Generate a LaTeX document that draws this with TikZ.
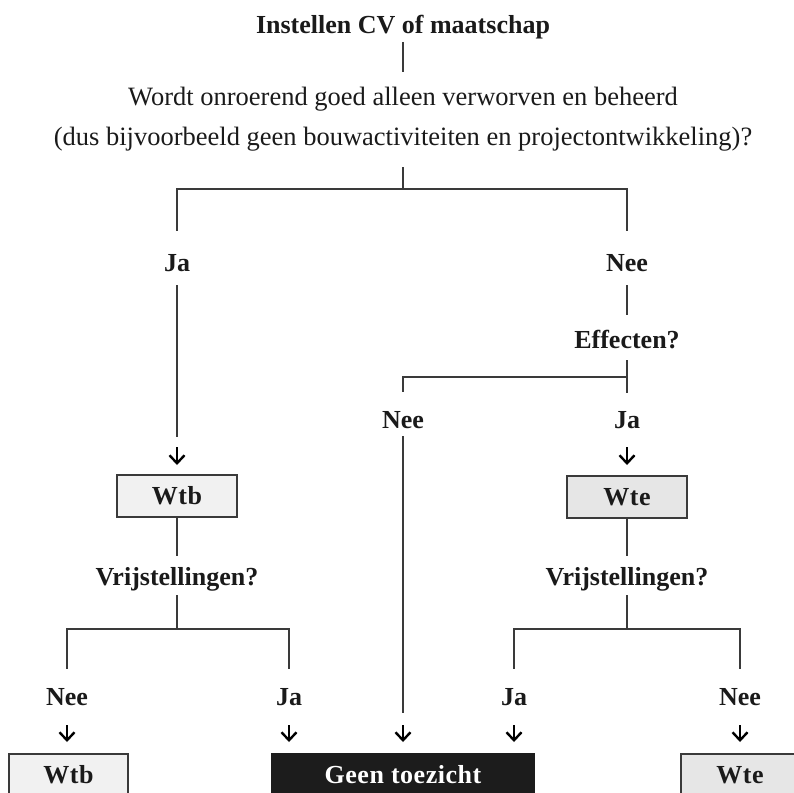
\documentclass[tikz,border=0pt]{standalone}
\usepackage{fontspec}
\setmainfont{Liberation Serif}
\usetikzlibrary{arrows.meta}
\definecolor{inkline}{HTML}{3A3A3A}
\definecolor{inktext}{HTML}{1A1A1A}
\definecolor{wtbfill}{HTML}{F1F1F1}
\definecolor{wtefill}{HTML}{E6E6E6}
\definecolor{darkfill}{HTML}{1C1C1C}
\begin{document}
\begin{tikzpicture}[x=1pt,y=-1pt,
  lbl/.style={font=\fontsize{26}{30}\selectfont\bfseries, text=inktext,
    inner sep=0pt, outer sep=0pt, text height=17pt, text depth=0pt},
  qtxt/.style={font=\fontsize{26.5}{30}\selectfont, text=inktext,
    inner sep=0pt, outer sep=0pt, text height=17pt, text depth=0pt},
  wire/.style={draw=inkline, line width=1.5pt},
  pointer/.style={draw=black, line width=2.4pt,
    -{Straight Barb[length=8pt,width=15pt]}},
  boxbase/.style={draw=inkline, line width=2pt, inner sep=0pt, outer sep=0pt,
    minimum height=42pt, text height=17pt, text depth=0pt,
    font=\fontsize{26}{30}\selectfont\bfseries\addfontfeature{LetterSpace=2}},
  wtbbox/.style={boxbase, fill=wtbfill, text=inktext},
  wtebox/.style={boxbase, fill=wtefill, text=inktext},
  darkbox/.style={boxbase, fill=darkfill, draw=darkfill, text=white}
]
\useasboundingbox (0,0) rectangle (794,792);
\clip (0,0) rectangle (794,792);

% question at the top
\node[lbl]  (title) at (403,25)  {Instellen CV of maatschap};
\node[qtxt] (q1)    at (403,97)  {Wordt onroerend goed alleen verworven en beheerd};
\node[qtxt] (q2)    at (403,137) {(dus bijvoorbeeld geen bouwactiviteiten en projectontwikkeling)?};

% answers and follow-up questions
\node[lbl] (ja1)  at (177,263) {Ja};
\node[lbl] (nee1) at (627,263) {Nee};
\node[lbl] (eff)  at (627,340) {Effecten?};
\node[lbl] (nee2) at (403,420) {Nee};
\node[lbl] (ja2)  at (627,420) {Ja};
\node[lbl] (vr1)  at (177,577) {Vrijstellingen?};
\node[lbl] (vr2)  at (627,577) {Vrijstellingen?};
\node[lbl] (nee3) at (67,697)  {Nee};
\node[lbl] (ja3)  at (289,697) {Ja};
\node[lbl] (ja4)  at (514,697) {Ja};
\node[lbl] (nee4) at (740,697) {Nee};

% outcome boxes
\node[wtbbox, minimum width=120pt] (wtb1) at (177,496)   {Wtb};
\node[wtebox, minimum width=120pt] (wte1) at (627,497)   {Wte};
\node[wtbbox, minimum width=119pt] (wtb2) at (68.5,775)  {Wtb};
\node[darkbox, minimum width=262pt] (geen) at (403,775)  {Geen toezicht};
\node[wtebox, minimum width=118pt] (wte2) at (740,775)   {Wte};

% branch points
\coordinate (j1) at (403,189);
\coordinate (j2) at (627,377);
\coordinate (j3) at (177,629);
\coordinate (j4) at (627,629);

% connectors
\draw[wire, shorten <=8.5pt, shorten >=16.5pt] (title) -- (q1);
\draw[wire, shorten <=21.5pt] (q2) -- (j1);
\draw[wire, shorten >=23.5pt] (j1) -| (ja1);
\draw[wire, shorten >=23.5pt] (j1) -| (nee1);

\draw[wire, shorten <=13.5pt, shorten >=38pt] (ja1) -- (wtb1);
\draw[pointer, shorten <=175.5pt, shorten >=10pt] (ja1) -- (wtb1);

\draw[wire, shorten <=13.5pt, shorten >=16.5pt] (nee1) -- (eff);
\draw[wire, shorten <=11.5pt] (eff) -- (j2);
\draw[wire, shorten >=19.5pt] (j2) -| (nee2);
\draw[wire, shorten >=18.5pt] (j2) -- (ja2);

\draw[wire, shorten <=7.5pt, shorten >=41pt] (nee2) -- (nee2 |- geen.north);
\draw[pointer, shorten <=296.5pt, shorten >=12pt] (nee2) -- (nee2 |- geen.north);
\draw[pointer, shorten <=18.5pt, shorten >=11pt] (ja2) -- (wte1);

\draw[wire, shorten >=12.5pt] (wtb1) -- (vr1);
\draw[wire, shorten >=12.5pt] (wte1) -- (vr2);
\draw[wire, shorten <=9.5pt] (vr1) -- (j3);
\draw[wire, shorten <=9.5pt] (vr2) -- (j4);
\draw[wire, shorten >=19.5pt] (j3) -| (nee3);
\draw[wire, shorten >=19.5pt] (j3) -| (ja3);
\draw[wire, shorten >=19.5pt] (j4) -| (ja4);
\draw[wire, shorten >=19.5pt] (j4) -| (nee4);

\draw[pointer, shorten <=19.5pt, shorten >=12pt] (nee3) -- (nee3 |- wtb2.north);
\draw[pointer, shorten <=19.5pt, shorten >=12pt] (ja3) -- (ja3 |- geen.north);
\draw[pointer, shorten <=19.5pt, shorten >=12pt] (ja4) -- (ja4 |- geen.north);
\draw[pointer, shorten <=19.5pt, shorten >=12pt] (nee4) -- (nee4 |- wte2.north);
\end{tikzpicture}
\end{document}
